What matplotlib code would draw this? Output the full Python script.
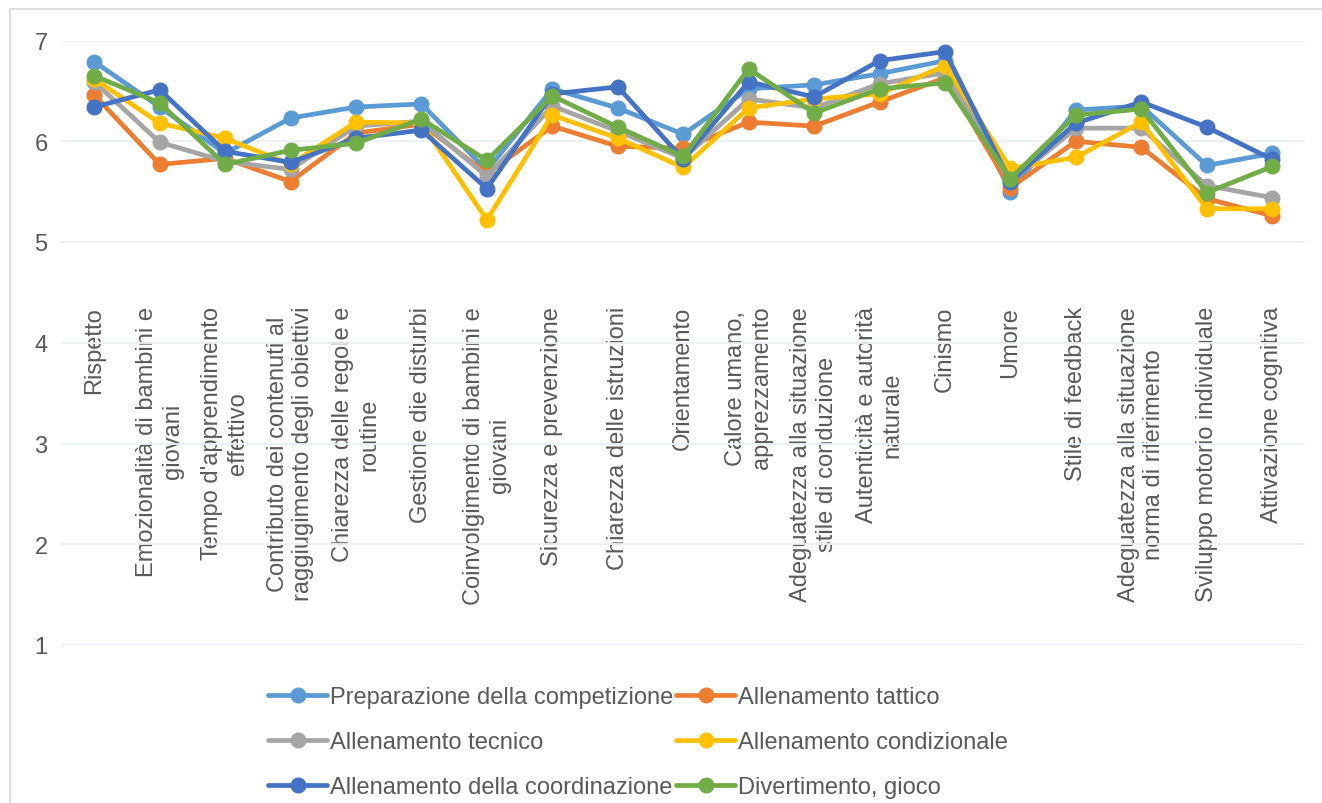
import matplotlib.pyplot as plt
from matplotlib.patches import Rectangle

plt.rcParams['font.family'] = ['Liberation Sans', 'DejaVu Sans']

categories = [
    "Rispetto",
    "Emozionalità di bambini e\ngiovani",
    "Tempo d'apprendimento\neffettivo",
    "Contributo dei contenuti al\nraggiugimento degli obiettivi",
    "Chiarezza delle regole e\nroutine",
    "Gestione die disturbi",
    "Coinvolgimento di bambini e\ngiovani",
    "Sicurezza e prevenzione",
    "Chiarezza delle istruzioni",
    "Orientamento",
    "Calore umano,\napprezzamento",
    "Adeguatezza alla situazione\nstile di conduzione",
    "Autenticità e autorità\nnaturale",
    "Cinismo",
    "Umore",
    "Stile di feedback",
    "Adeguatezza alla situazione\nnorma di riferimento",
    "Sviluppo motorio individuale",
    "Attivazione cognitiva",
]

preparazione = [6.79, 6.34, 5.88, 6.23, 6.34, 6.37, 5.71, 6.52, 6.33, 6.07,
                6.52, 6.56, 6.67, 6.80, 5.50, 6.31, 6.35, 5.76, 5.88]
tattico = [6.46, 5.77, 5.83, 5.60, 6.08, 6.17, 5.68, 6.15, 5.95, 5.93,
           6.19, 6.15, 6.39, 6.63, 5.54, 6.00, 5.94, 5.43, 5.26]
tecnico = [6.59, 5.99, 5.80, 5.72, 6.15, 6.20, 5.65, 6.35, 6.10, 5.83,
           6.42, 6.33, 6.57, 6.68, 5.60, 6.13, 6.13, 5.56, 5.44]
condizionale = [6.62, 6.18, 6.03, 5.77, 6.19, 6.18, 5.22, 6.26, 6.03, 5.74,
                6.33, 6.42, 6.47, 6.75, 5.73, 5.84, 6.19, 5.33, 5.33]
coordinazione = [6.34, 6.51, 5.90, 5.79, 6.03, 6.11, 5.53, 6.47, 6.54, 5.82,
                 6.59, 6.44, 6.80, 6.89, 5.60, 6.18, 6.39, 6.14, 5.82]
divertimento = [6.65, 6.38, 5.77, 5.91, 5.98, 6.22, 5.81, 6.45, 6.14, 5.85,
                6.72, 6.28, 6.52, 6.58, 5.63, 6.26, 6.32, 5.49, 5.75]

series = [
    ("Preparazione della competizione", preparazione, "#5B9BD5"),
    ("Allenamento tattico", tattico, "#ED7D31"),
    ("Allenamento tecnico", tecnico, "#A5A5A5"),
    ("Allenamento condizionale", condizionale, "#FFC000"),
    ("Allenamento della coordinazione", coordinazione, "#4472C4"),
    ("Divertimento, gioco", divertimento, "#70AD47"),
]

TEXT = "#595959"

fig = plt.figure(figsize=(13.22, 8.04), dpi=100)
fig.patches.append(Rectangle((9.5 / 1322, -0.05), 1.1, 1 - 9.5 / 804 + 0.05,
                             transform=fig.transFigure, fill=False,
                             edgecolor="#D9D9D9", lw=1.2))

ax = fig.add_axes([61.5 / 1322, 1 - 646 / 804, (1305 - 61.5) / 1322, (646 - 41.5) / 804])
x = list(range(len(categories)))

handles = []
for name, vals, col in series:
    ln, = ax.plot(x, vals, color=col, lw=3.4, marker="o", ms=10.5,
                  solid_joinstyle="round", solid_capstyle="round", label=name)
    handles.append(ln)

ax.set_xlim(-0.5, len(categories) - 0.5)
ax.set_ylim(1, 7)
ax.set_yticks(range(1, 8))
ax.grid(axis="y", color="#EAF0F7", lw=1.3)
ax.set_axisbelow(True)
for s in ["left", "right", "top"]:
    ax.spines[s].set_visible(False)
# category labels hang from an invisible axis line crossing at ~4.4
ax.spines["bottom"].set_position(("data", 4.38))
ax.spines["bottom"].set_visible(False)

ax.set_xticks(x)
ax.set_xticklabels(categories, rotation=90, va="top", ha="center",
                   multialignment="center", linespacing=1.22)
ax.tick_params(axis="x", length=0, pad=1, labelsize=17, labelcolor=TEXT)
ax.tick_params(axis="y", length=0, pad=10, labelsize=17, labelcolor=TEXT)

# legend fills column-wise, so reorder to get the row layout
order = [0, 2, 4, 1, 3, 5]
fig.legend([handles[i] for i in order], [series[i][0] for i in order],
           ncol=2, loc="center", bbox_to_anchor=(638 / 1322, 1 - 743 / 804),
           frameon=False, fontsize=17, labelcolor=TEXT, handlelength=2.5,
           handletextpad=0.1, columnspacing=0.15, labelspacing=0.98)

fig.savefig("out.png", dpi=100)
